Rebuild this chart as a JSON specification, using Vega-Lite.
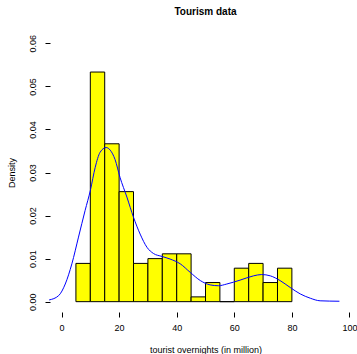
{
  "$schema": "https://vega.github.io/schema/vega-lite/v6.json",
  "width": 311,
  "height": 279,
  "autosize": {"type": "none"},
  "padding": {"left": 50, "top": 33, "right": 0, "bottom": 42},
  "background": "white",
  "config": {
    "font": "Liberation Sans",
    "view": {"stroke": null},
    "axis": {
      "domain": false,
      "grid": false,
      "tickColor": "black",
      "tickSize": 5,
      "labelColor": "black",
      "labelFontSize": 9,
      "labelFont": "Liberation Sans",
      "titleColor": "black",
      "titleFontSize": 9,
      "titleFont": "Liberation Sans",
      "titleFontWeight": "normal"
    }
  },
  "title": {
    "text": "Tourism data",
    "fontSize": 10,
    "fontWeight": "bold",
    "font": "Liberation Sans",
    "color": "black",
    "anchor": "middle",
    "offset": 16
  },
  "datasets": {
    "bins": [
      {"from": 5, "to": 10, "count": 8, "density": 0.008889},
      {"from": 10, "to": 15, "count": 48, "density": 0.053333},
      {"from": 15, "to": 20, "count": 33, "density": 0.036667},
      {"from": 20, "to": 25, "count": 23, "density": 0.025556},
      {"from": 25, "to": 30, "count": 8, "density": 0.008889},
      {"from": 30, "to": 35, "count": 9, "density": 0.01},
      {"from": 35, "to": 40, "count": 10, "density": 0.011111},
      {"from": 40, "to": 45, "count": 10, "density": 0.011111},
      {"from": 45, "to": 50, "count": 1, "density": 0.001111},
      {"from": 50, "to": 55, "count": 4, "density": 0.004444},
      {"from": 55, "to": 60, "count": 0, "density": 0},
      {"from": 60, "to": 65, "count": 7, "density": 0.007778},
      {"from": 65, "to": 70, "count": 8, "density": 0.008889},
      {"from": 70, "to": 75, "count": 4, "density": 0.004444},
      {"from": 75, "to": 80, "count": 7, "density": 0.007778}
    ],
    "kde": [
      {"x": -4.3, "d": 0.0004},
      {"x": -1.0, "d": 0.0014},
      {"x": 1.3, "d": 0.0041},
      {"x": 3.6, "d": 0.0088},
      {"x": 5.9, "d": 0.0150},
      {"x": 8.2, "d": 0.0212},
      {"x": 10.0, "d": 0.0258},
      {"x": 11.7, "d": 0.0312},
      {"x": 13.4, "d": 0.0347},
      {"x": 15.5, "d": 0.0358},
      {"x": 16.9, "d": 0.0352},
      {"x": 18.6, "d": 0.0330},
      {"x": 20.3, "d": 0.0289},
      {"x": 22.7, "d": 0.0243},
      {"x": 25.0, "d": 0.0196},
      {"x": 27.3, "d": 0.0157},
      {"x": 29.7, "d": 0.0126},
      {"x": 31.9, "d": 0.0112},
      {"x": 34.9, "d": 0.0105},
      {"x": 37.7, "d": 0.0099},
      {"x": 41.2, "d": 0.0088},
      {"x": 44.7, "d": 0.0068},
      {"x": 48.2, "d": 0.0049},
      {"x": 51.6, "d": 0.0039},
      {"x": 54.5, "d": 0.0037},
      {"x": 57.4, "d": 0.0041},
      {"x": 62.0, "d": 0.0050},
      {"x": 66.7, "d": 0.0060},
      {"x": 69.5, "d": 0.0063},
      {"x": 72.5, "d": 0.0060},
      {"x": 75.9, "d": 0.0049},
      {"x": 79.4, "d": 0.0033},
      {"x": 82.9, "d": 0.0018},
      {"x": 86.4, "d": 0.0008},
      {"x": 89.8, "d": 0.0002},
      {"x": 96.5, "d": 0.0001}
    ]
  },
  "layer": [
    {
      "data": {"name": "bins"},
      "mark": {"type": "rect", "fill": "#FFFF00", "stroke": "black", "strokeWidth": 1},
      "encoding": {
        "x": {
          "field": "from",
          "type": "quantitative",
          "scale": {"domain": [-4, 104], "nice": false, "zero": false},
          "axis": {
            "title": "tourist overnights (in million)",
            "values": [0, 20, 40, 60, 80, 100],
            "labelPadding": 6,
            "titlePadding": 13
          }
        },
        "x2": {"field": "to"},
        "y": {
          "field": "density",
          "type": "quantitative",
          "scale": {"domain": [-0.0024, 0.0624], "nice": false, "zero": false},
          "axis": {
            "title": "Density",
            "values": [0, 0.01, 0.02, 0.03, 0.04, 0.05, 0.06],
            "format": ".2f",
            "labelAngle": -90,
            "labelAlign": "center",
            "labelBaseline": "bottom",
            "labelPadding": 8,
            "titlePadding": 12
          }
        },
        "y2": {"datum": 0}
      }
    },
    {
      "data": {"name": "kde"},
      "mark": {"type": "line", "color": "#0000FF", "strokeWidth": 1, "interpolate": "monotone"},
      "encoding": {
        "x": {"field": "x", "type": "quantitative"},
        "y": {"field": "d", "type": "quantitative"}
      }
    },
    {
      "mark": {"type": "rule", "color": "black", "strokeWidth": 1},
      "encoding": {
        "x": {"datum": 0},
        "x2": {"datum": 100},
        "y": {"datum": -0.0024}
      }
    },
    {
      "mark": {"type": "rule", "color": "black", "strokeWidth": 1},
      "encoding": {
        "x": {"datum": -4},
        "y": {"datum": 0},
        "y2": {"datum": 0.06}
      }
    }
  ]
}
